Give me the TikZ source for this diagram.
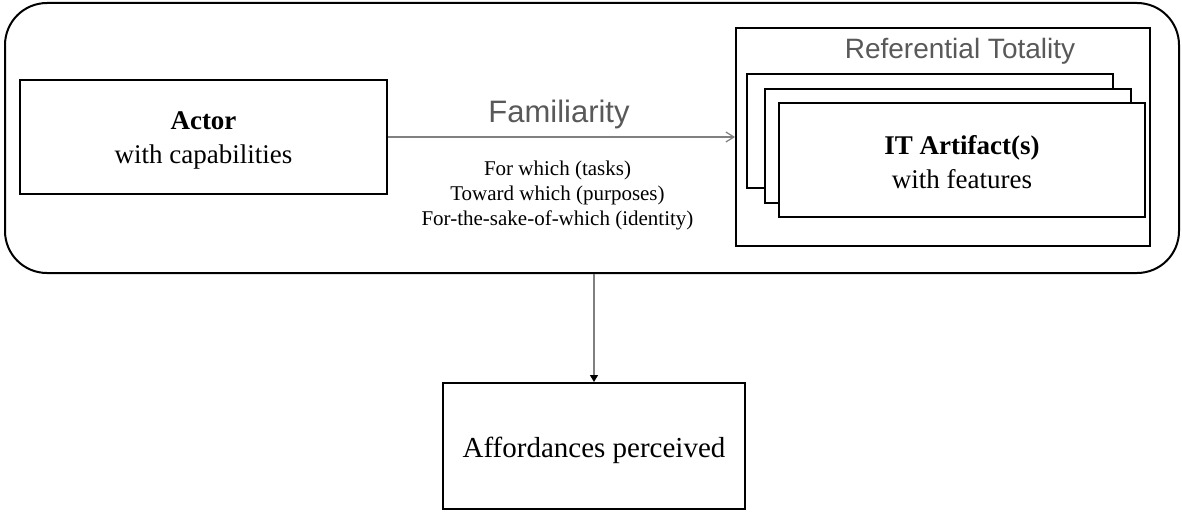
\documentclass[tikz,border=0pt]{standalone}
\usepackage{fontspec}
\setmainfont{Liberation Serif}
\newfontfamily\labelsans{Liberation Sans}
\usetikzlibrary{arrows.meta}
\definecolor{labelgray}{HTML}{595959}
\definecolor{linkgray}{HTML}{808080}
\tikzset{
  box/.style={draw=black, line width=2pt, fill=white, inner sep=0pt},
  boxtext/.style={font=\fontsize{27}{34}\selectfont, align=center, inner sep=0pt},
  serifsmall/.style={font=\fontsize{21}{25}\selectfont, align=center, inner sep=0pt},
  graylabel/.style={font=\labelsans\fontsize{28}{32}\selectfont, text=labelgray, inner sep=0pt},
  link/.style={draw=linkgray, line width=1.2pt},
}
\begin{document}
\begin{tikzpicture}[x=1pt, y=-1pt]
  \useasboundingbox (0,0) rectangle (1182,511);

  % enclosing context
  \node[draw=black, line width=2pt, rounded corners=42pt, inner sep=0pt,
        minimum width=1174pt, minimum height=270pt] (context) at (592,138) {};

  % actor
  \node[box, minimum width=367pt, minimum height=114pt] (actor) at (203.5,137) {};
  \node[boxtext] (actortext) at (203.5,140) {\textbf{Actor}\\with capabilities};

  % referential totality with stacked artifacts
  \node[box, minimum width=414pt, minimum height=218pt] (reftot) at (943,137) {};
  \node[graylabel, anchor=base] (reftitle) at (960,59) {Referential Totality};
  \node[box, minimum width=366pt, minimum height=114pt] (art3) at (930,131) {};
  \node[box, minimum width=366pt, minimum height=114pt] (art2) at (948,146) {};
  \node[box, minimum width=366pt, minimum height=114pt] (art1) at (962,160) {};
  \node[boxtext] (art1text) at (962,162) {\textbf{IT Artifact(s)}\\with features};

  % familiarity link
  \draw[link, -{Straight Barb[length=8pt, width=10pt, line width=1.2pt]}] (actor.east) -- (reftot.west);
  \node[graylabel, font=\labelsans\fontsize{31}{35}\selectfont, anchor=base] (familiar) at (559,122) {Familiarity};
  \node[serifsmall] (modes) at (557.5,195)
    {For which (tasks)\\Toward which (purposes)\\For-the-sake-of-which (identity)};

  % outcome
  \node[box, minimum width=302pt, minimum height=126pt] (afford) at (594,446) {};
  \node[font=\fontsize{29}{34}\selectfont, anchor=base, inner sep=0pt] (afftext) at (594,457) {Affordances perceived};
  \draw[link, -{Triangle[length=7pt, width=8pt, black]}]
    (afford.north |- context.south) -- (afford.north);
\end{tikzpicture}
\end{document}
